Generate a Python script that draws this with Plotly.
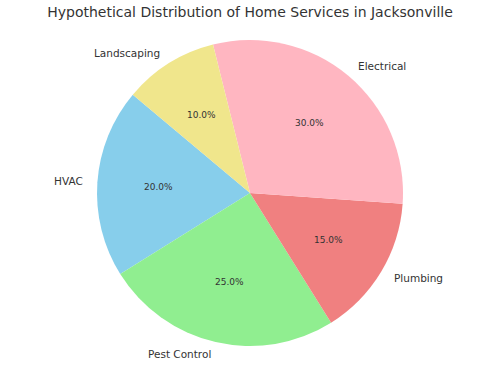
import numpy as np
import plotly.graph_objects as go

labels = ["HVAC", "Pest Control", "Plumbing", "Electrical", "Landscaping"]
shares = [20, 25, 15, 30, 10]
colors = ["#87CEEB", "#90EE90", "#F08080", "#FFB6C1", "#F0E68C"]
title = "Hypothetical Distribution of Home Services in Jacksonville"

font_family = "DejaVu Sans"
text_color = "#333333"
start_angle = 140  # degrees, counterclockwise from 3 o'clock (first slice start)

W, H = 500, 368
margin = dict(l=0, r=0, t=40, b=22)
plot_w = W - margin["l"] - margin["r"]
plot_h = H - margin["t"] - margin["b"]
r_px = min(plot_w, plot_h) / 2

vals = np.array(shares, dtype=float)
frac = vals / vals.sum()
mid = np.deg2rad(start_angle + 360 * (np.cumsum(frac) - frac / 2))
# plotly rotation: the counterclockwise-first slice ends (clockwise sense) at `rotation`
rotation = 90 - start_angle - 360 * frac[0]

fig = go.Figure()
fig.add_trace(go.Pie(
    labels=labels, values=shares, sort=False,
    direction="counterclockwise", rotation=rotation,
    marker=dict(colors=colors, line=dict(width=0)),
    textinfo="none",
    showlegend=False, hoverinfo="label+percent",
))

annotations = []
for lab, f, th in zip(labels, frac, mid):
    c, s = np.cos(th), np.sin(th)
    # percentage at 0.6 r
    annotations.append(dict(
        x=0.5 + 0.6 * r_px * c / plot_w, y=0.5 + 0.6 * r_px * s / plot_h,
        xref="paper", yref="paper", text=f"{f * 100:.1f}%", showarrow=False,
        xanchor="center", yanchor="middle",
        font=dict(family=font_family, size=9, color=text_color),
    ))
    # label just outside the rim
    annotations.append(dict(
        x=0.5 + 1.08 * r_px * c / plot_w, y=0.5 + 1.08 * r_px * s / plot_h,
        xref="paper", yref="paper", text=lab, showarrow=False,
        xanchor="left" if c > 0 else "right", yanchor="middle",
        font=dict(family=font_family, size=10.5, color=text_color),
    ))

fig.update_layout(
    width=W, height=H,
    margin=margin,
    paper_bgcolor="white", plot_bgcolor="white",
    annotations=annotations,
    title=dict(text=title, x=0.5, xanchor="center", y=0.967, yanchor="middle",
               font=dict(family=font_family, size=14, color=text_color)),
)
fig.write_html("out.html", config={"displayModeBar": False},
               post_script="document.body.style.margin='0';")
